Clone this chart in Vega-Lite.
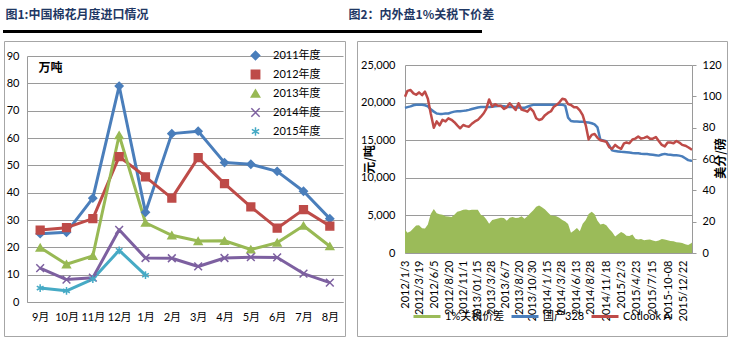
{
  "$schema": "https://vega.github.io/schema/vega-lite/v6.json",
  "padding": {"left": 0, "top": 7, "right": 0, "bottom": 0},
  "spacing": 4,
  "config": {
    "font": "Lato, Noto Sans CJK SC",
    "axis": {"labelFont": "Lato, Noto Sans CJK SC", "labelFontSize": 11, "labelColor": "#000000", "domainColor": "#9A9A9A", "gridColor": "#9A9A9A", "tickColor": "#9A9A9A", "titleColor": "#000000"},
    "legend": {"labelFont": "Lato, Noto Sans CJK SC", "labelFontSize": 11, "labelColor": "#000000"},
    "view": {"stroke": null}
  },
  "vconcat": [
    {
      "width": 477,
      "height": 1,
      "view": {"stroke": "#000000", "strokeWidth": 2},
      "data": {"values": [{"p": 0}]},
      "mark": {"type": "point", "opacity": 0},
      "encoding": {
        "x": {"field": "p", "type": "quantitative", "scale": {"domain": [0, 1]},
          "axis": {"orient": "top", "title": "图2：内外盘1%关税下价差", "titleX": 344, "titleY": -17, "titleAlign": "left", "titleBaseline": "middle", "titleAnchor": "start", "titleFont": "Noto Sans CJK SC", "titleFontWeight": "bold", "titleFontSize": 12, "titleColor": "#1F3864", "domain": false, "ticks": false, "labels": false, "grid": false}},
        "y": {"field": "p", "type": "quantitative", "scale": {"domain": [0, 1]},
          "axis": {"title": "图1:中国棉花月度进口情况", "titleAngle": 0, "titleX": 1, "titleY": -17, "titleAlign": "left", "titleBaseline": "middle", "titleFont": "Noto Sans CJK SC", "titleFontWeight": "bold", "titleFontSize": 12, "titleColor": "#1F3864", "domain": false, "ticks": false, "labels": false, "grid": false}}
      }
    },
    {
      "spacing": 10,
      "resolve": {"scale": {"color": "independent", "shape": "independent", "stroke": "independent", "fill": "independent"}, "legend": {"color": "independent"}},
      "hconcat": [
        {
          "width": 341,
          "height": 295,
          "view": {"stroke": "#A6A6A6", "strokeWidth": 1},
          "data": {"values": [
            {"m": "9月", "s": "2011年度", "v": 25}, {"m": "10月", "s": "2011年度", "v": 25.5}, {"m": "11月", "s": "2011年度", "v": 38}, {"m": "12月", "s": "2011年度", "v": 79}, {"m": "1月", "s": "2011年度", "v": 32.8}, {"m": "2月", "s": "2011年度", "v": 61.6}, {"m": "3月", "s": "2011年度", "v": 62.5}, {"m": "4月", "s": "2011年度", "v": 51}, {"m": "5月", "s": "2011年度", "v": 50.4}, {"m": "6月", "s": "2011年度", "v": 47.8}, {"m": "7月", "s": "2011年度", "v": 40.5}, {"m": "8月", "s": "2011年度", "v": 30.5},
            {"m": "9月", "s": "2012年度", "v": 26.3}, {"m": "10月", "s": "2012年度", "v": 27.2}, {"m": "11月", "s": "2012年度", "v": 30.5}, {"m": "12月", "s": "2012年度", "v": 53.2}, {"m": "1月", "s": "2012年度", "v": 45.8}, {"m": "2月", "s": "2012年度", "v": 38}, {"m": "3月", "s": "2012年度", "v": 52.8}, {"m": "4月", "s": "2012年度", "v": 43.3}, {"m": "5月", "s": "2012年度", "v": 34.8}, {"m": "6月", "s": "2012年度", "v": 27}, {"m": "7月", "s": "2012年度", "v": 33.8}, {"m": "8月", "s": "2012年度", "v": 27.8},
            {"m": "9月", "s": "2013年度", "v": 19.9}, {"m": "10月", "s": "2013年度", "v": 13.8}, {"m": "11月", "s": "2013年度", "v": 16.9}, {"m": "12月", "s": "2013年度", "v": 61}, {"m": "1月", "s": "2013年度", "v": 29}, {"m": "2月", "s": "2013年度", "v": 24.4}, {"m": "3月", "s": "2013年度", "v": 22.3}, {"m": "4月", "s": "2013年度", "v": 22.4}, {"m": "5月", "s": "2013年度", "v": 19.2}, {"m": "6月", "s": "2013年度", "v": 21.7}, {"m": "7月", "s": "2013年度", "v": 27.9}, {"m": "8月", "s": "2013年度", "v": 20.4},
            {"m": "9月", "s": "2014年度", "v": 12.4}, {"m": "10月", "s": "2014年度", "v": 8.2}, {"m": "11月", "s": "2014年度", "v": 8.9}, {"m": "12月", "s": "2014年度", "v": 26.4}, {"m": "1月", "s": "2014年度", "v": 16.1}, {"m": "2月", "s": "2014年度", "v": 16}, {"m": "3月", "s": "2014年度", "v": 13}, {"m": "4月", "s": "2014年度", "v": 16.1}, {"m": "5月", "s": "2014年度", "v": 16.4}, {"m": "6月", "s": "2014年度", "v": 16.3}, {"m": "7月", "s": "2014年度", "v": 10.4}, {"m": "8月", "s": "2014年度", "v": 7.1},
            {"m": "9月", "s": "2015年度", "v": 5.1}, {"m": "10月", "s": "2015年度", "v": 4.1}, {"m": "11月", "s": "2015年度", "v": 8.4}, {"m": "12月", "s": "2015年度", "v": 18.9}, {"m": "1月", "s": "2015年度", "v": 9.8}
          ]},
          "encoding": {
            "x": {"field": "m", "type": "ordinal", "sort": ["9月", "10月", "11月", "12月", "1月", "2月", "3月", "4月", "5月", "6月", "7月", "8月"],
              "scale": {"type": "point", "padding": 0.5, "range": [23, 339]},
              "axis": {"title": null, "offset": -34, "labelAngle": 0, "ticks": false, "grid": false, "labelPadding": 9, "labelFontSize": 11}},
            "y": {"field": "v", "type": "quantitative",
              "scale": {"domain": [0, 90], "range": [261, 15], "nice": false},
              "axis": {"offset": -23, "values": [0, 10, 20, 30, 40, 50, 60, 70, 80, 90], "ticks": false, "grid": true, "labelPadding": 8, "title": "万吨", "titleAngle": 0, "titleX": 11, "titleY": 26, "titleAlign": "left", "titleBaseline": "middle", "titleFont": "Noto Sans CJK SC", "titleFontWeight": "bold", "titleFontSize": 12}}
          },
          "layer": [
            {"mark": {"type": "line", "strokeWidth": 3, "strokeJoin": "round"},
              "encoding": {
                "color": {"field": "s", "type": "nominal",
                  "scale": {"domain": ["2011年度", "2012年度", "2013年度", "2014年度", "2015年度"], "range": ["#4A7EBB", "#BE4B48", "#98B954", "#7D60A0", "#46AAC5"]},
                  "legend": {"orient": "none", "legendX": 246, "legendY": 8, "direction": "vertical", "title": null, "symbolSize": 70, "symbolStrokeWidth": 1.5, "clipHeight": 13, "rowPadding": 6, "labelOffset": 12, "labelFontSize": 11}}
              }},
            {"mark": {"type": "point", "opacity": 1, "size": 60, "strokeWidth": 1.5},
              "encoding": {
                "shape": {"field": "s", "type": "nominal", "legend": null,
                  "scale": {"domain": ["2011年度", "2012年度", "2013年度", "2014年度", "2015年度"], "range": ["diamond", "square", "triangle-up", "M-1,-1L1,1M1,-1L-1,1", "M0,-1L0,1M-0.87,-0.5L0.87,0.5M-0.87,0.5L0.87,-0.5"]}},
                "fill": {"field": "s", "type": "nominal", "legend": null,
                  "scale": {"domain": ["2011年度", "2012年度", "2013年度", "2014年度", "2015年度"], "range": ["#4A7EBB", "#BE4B48", "#98B954", "#7D60A0", "#46AAC5"]}},
                "stroke": {"field": "s", "type": "nominal", "legend": null,
                  "scale": {"domain": ["2011年度", "2012年度", "2013年度", "2014年度", "2015年度"], "range": ["#4A7EBB", "#BE4B48", "#98B954", "#7D60A0", "#46AAC5"]}}
              }}
          ]
        },
        {
          "width": 370,
          "height": 295,
          "view": {"stroke": "#A6A6A6", "strokeWidth": 1},
          "data": {"values": [
            {"date": "2012/01/03", "spread": 3090, "cn328": 19300, "cotlook": 99.8},
            {"date": "2012/01/16", "spread": 2700, "cn328": 19400, "cotlook": 103.5},
            {"date": "2012/02/01", "spread": 2900, "cn328": 19500, "cotlook": 104},
            {"date": "2012/02/16", "spread": 3300, "cn328": 19650, "cotlook": 101.9},
            {"date": "2012/03/01", "spread": 3650, "cn328": 19700, "cotlook": 101},
            {"date": "2012/03/16", "spread": 3700, "cn328": 19700, "cotlook": 102.5},
            {"date": "2012/04/01", "spread": 3300, "cn328": 19700, "cotlook": 100.8},
            {"date": "2012/04/16", "spread": 3250, "cn328": 19650, "cotlook": 103},
            {"date": "2012/05/01", "spread": 3800, "cn328": 19500, "cotlook": 98.5},
            {"date": "2012/05/16", "spread": 5200, "cn328": 19100, "cotlook": 89},
            {"date": "2012/06/01", "spread": 5850, "cn328": 18800, "cotlook": 80},
            {"date": "2012/06/16", "spread": 5300, "cn328": 18550, "cotlook": 84},
            {"date": "2012/07/01", "spread": 5150, "cn328": 18500, "cotlook": 81.5},
            {"date": "2012/07/16", "spread": 5090, "cn328": 18500, "cotlook": 85},
            {"date": "2012/08/01", "spread": 4900, "cn328": 18550, "cotlook": 84},
            {"date": "2012/08/16", "spread": 4850, "cn328": 18550, "cotlook": 86},
            {"date": "2012/09/01", "spread": 4800, "cn328": 18700, "cotlook": 85},
            {"date": "2012/09/16", "spread": 5100, "cn328": 18800, "cotlook": 83.5},
            {"date": "2012/10/01", "spread": 5500, "cn328": 18850, "cotlook": 81.5},
            {"date": "2012/10/16", "spread": 5600, "cn328": 18850, "cotlook": 79.6},
            {"date": "2012/11/01", "spread": 5750, "cn328": 18900, "cotlook": 81.7},
            {"date": "2012/11/16", "spread": 5800, "cn328": 18950, "cotlook": 81},
            {"date": "2012/12/01", "spread": 5700, "cn328": 19030, "cotlook": 80.6},
            {"date": "2012/12/16", "spread": 5750, "cn328": 19150, "cotlook": 82.5},
            {"date": "2013/01/01", "spread": 5750, "cn328": 19250, "cotlook": 84},
            {"date": "2013/01/16", "spread": 5750, "cn328": 19350, "cotlook": 84.9},
            {"date": "2013/02/01", "spread": 5100, "cn328": 19400, "cotlook": 87},
            {"date": "2013/02/16", "spread": 4900, "cn328": 19400, "cotlook": 89.2},
            {"date": "2013/03/01", "spread": 4500, "cn328": 19400, "cotlook": 92},
            {"date": "2013/03/16", "spread": 3900, "cn328": 19420, "cotlook": 98},
            {"date": "2013/04/01", "spread": 4400, "cn328": 19450, "cotlook": 93.4},
            {"date": "2013/04/16", "spread": 4500, "cn328": 19500, "cotlook": 95},
            {"date": "2013/05/01", "spread": 4600, "cn328": 19550, "cotlook": 94},
            {"date": "2013/05/16", "spread": 4700, "cn328": 19550, "cotlook": 94},
            {"date": "2013/06/01", "spread": 4650, "cn328": 19500, "cotlook": 92},
            {"date": "2013/06/16", "spread": 4300, "cn328": 19450, "cotlook": 93},
            {"date": "2013/07/01", "spread": 4700, "cn328": 19400, "cotlook": 95.6},
            {"date": "2013/07/16", "spread": 4800, "cn328": 19400, "cotlook": 93.5},
            {"date": "2013/08/01", "spread": 4650, "cn328": 19400, "cotlook": 91.3},
            {"date": "2013/08/16", "spread": 4700, "cn328": 19350, "cotlook": 95.6},
            {"date": "2013/09/01", "spread": 4900, "cn328": 19300, "cotlook": 91.5},
            {"date": "2013/09/16", "spread": 4550, "cn328": 19300, "cotlook": 91},
            {"date": "2013/10/01", "spread": 4900, "cn328": 19450, "cotlook": 90.2},
            {"date": "2013/10/16", "spread": 5300, "cn328": 19600, "cotlook": 92.4},
            {"date": "2013/11/01", "spread": 5700, "cn328": 19700, "cotlook": 90.4},
            {"date": "2013/11/16", "spread": 6150, "cn328": 19700, "cotlook": 86},
            {"date": "2013/12/01", "spread": 6300, "cn328": 19700, "cotlook": 84.9},
            {"date": "2013/12/16", "spread": 6100, "cn328": 19700, "cotlook": 85.5},
            {"date": "2014/01/01", "spread": 5800, "cn328": 19700, "cotlook": 88},
            {"date": "2014/01/16", "spread": 5400, "cn328": 19700, "cotlook": 89.4},
            {"date": "2014/02/01", "spread": 4990, "cn328": 19700, "cotlook": 90.5},
            {"date": "2014/02/16", "spread": 4950, "cn328": 19700, "cotlook": 93.4},
            {"date": "2014/03/01", "spread": 4900, "cn328": 19700, "cotlook": 94.5},
            {"date": "2014/03/16", "spread": 4700, "cn328": 19700, "cotlook": 96},
            {"date": "2014/04/01", "spread": 4400, "cn328": 19700, "cotlook": 98.5},
            {"date": "2014/04/16", "spread": 4200, "cn328": 19600, "cotlook": 98},
            {"date": "2014/05/01", "spread": 3850, "cn328": 18000, "cotlook": 95},
            {"date": "2014/05/16", "spread": 2700, "cn328": 17550, "cotlook": 94.5},
            {"date": "2014/06/01", "spread": 3000, "cn328": 17500, "cotlook": 93},
            {"date": "2014/06/16", "spread": 3320, "cn328": 17500, "cotlook": 93},
            {"date": "2014/07/01", "spread": 2900, "cn328": 17450, "cotlook": 91},
            {"date": "2014/07/16", "spread": 3900, "cn328": 17450, "cotlook": 88},
            {"date": "2014/08/01", "spread": 4400, "cn328": 17400, "cotlook": 81.5},
            {"date": "2014/08/16", "spread": 5200, "cn328": 17350, "cotlook": 72.5},
            {"date": "2014/09/01", "spread": 5500, "cn328": 17250, "cotlook": 75.4},
            {"date": "2014/09/16", "spread": 5150, "cn328": 17100, "cotlook": 76},
            {"date": "2014/10/01", "spread": 4300, "cn328": 16700, "cotlook": 73.5},
            {"date": "2014/10/16", "spread": 3800, "cn328": 15050, "cotlook": 72},
            {"date": "2014/11/01", "spread": 3900, "cn328": 14950, "cotlook": 71.5},
            {"date": "2014/11/16", "spread": 3700, "cn328": 14850, "cotlook": 71},
            {"date": "2014/12/01", "spread": 3200, "cn328": 14300, "cotlook": 67.5},
            {"date": "2014/12/16", "spread": 2800, "cn328": 13650, "cotlook": 66.5},
            {"date": "2015/01/01", "spread": 2200, "cn328": 13550, "cotlook": 69},
            {"date": "2015/01/16", "spread": 2500, "cn328": 13500, "cotlook": 67.5},
            {"date": "2015/02/01", "spread": 2800, "cn328": 13450, "cotlook": 66.5},
            {"date": "2015/02/16", "spread": 2600, "cn328": 13420, "cotlook": 70},
            {"date": "2015/03/01", "spread": 2300, "cn328": 13400, "cotlook": 70.5},
            {"date": "2015/03/16", "spread": 2250, "cn328": 13350, "cotlook": 70},
            {"date": "2015/04/01", "spread": 2450, "cn328": 13300, "cotlook": 72.5},
            {"date": "2015/04/16", "spread": 1900, "cn328": 13280, "cotlook": 73},
            {"date": "2015/05/01", "spread": 1800, "cn328": 13250, "cotlook": 74.3},
            {"date": "2015/05/16", "spread": 1850, "cn328": 13200, "cotlook": 73},
            {"date": "2015/06/01", "spread": 1700, "cn328": 13180, "cotlook": 73.5},
            {"date": "2015/06/16", "spread": 1750, "cn328": 13150, "cotlook": 74.3},
            {"date": "2015/07/01", "spread": 1800, "cn328": 13100, "cotlook": 73},
            {"date": "2015/07/16", "spread": 1650, "cn328": 13050, "cotlook": 73},
            {"date": "2015/08/01", "spread": 1550, "cn328": 13000, "cotlook": 74},
            {"date": "2015/08/16", "spread": 1650, "cn328": 12950, "cotlook": 71.5},
            {"date": "2015/09/01", "spread": 1850, "cn328": 13100, "cotlook": 69},
            {"date": "2015/09/16", "spread": 1800, "cn328": 13180, "cotlook": 68},
            {"date": "2015/10/01", "spread": 1700, "cn328": 13100, "cotlook": 70.5},
            {"date": "2015/10/16", "spread": 1600, "cn328": 13050, "cotlook": 70.5},
            {"date": "2015/11/01", "spread": 1550, "cn328": 13000, "cotlook": 70},
            {"date": "2015/11/16", "spread": 1420, "cn328": 13000, "cotlook": 71.5},
            {"date": "2015/12/01", "spread": 1380, "cn328": 12950, "cotlook": 70.5},
            {"date": "2015/12/16", "spread": 1330, "cn328": 12850, "cotlook": 69},
            {"date": "2016/01/01", "spread": 1150, "cn328": 12600, "cotlook": 68.5},
            {"date": "2016/01/16", "spread": 1050, "cn328": 12350, "cotlook": 67.5},
            {"date": "2016/02/01", "spread": 1300, "cn328": 12260, "cotlook": 66.2},
            {"date": "2016/02/05", "spread": 1400, "cn328": 12250, "cotlook": 66}
          ]},
          "encoding": {
            "x": {"field": "date", "type": "temporal",
              "scale": {"domain": [{"year": 2012, "month": 1, "date": 3}, {"year": 2016, "month": 2, "date": 5}], "range": [48, 335], "nice": false},
              "axis": {"title": null, "offset": -83, "labelAngle": 270, "ticks": false, "grid": false, "labelPadding": 7, "labelFlush": false, "labelOverlap": false, "labelBound": false, "format": "%Y/%-m/%-d",
                "labelExpr": "datum.label === '2013/1/15' ? '2013/01/15' : datum.label === '2015/10/8' ? '2015-10-08' : datum.label",
                "values": [{"year": 2012, "month": 1, "date": 3}, {"year": 2012, "month": 3, "date": 19}, {"year": 2012, "month": 6, "date": 5}, {"year": 2012, "month": 8, "date": 20}, {"year": 2012, "month": 11, "date": 1}, {"year": 2013, "month": 1, "date": 15}, {"year": 2013, "month": 3, "date": 28}, {"year": 2013, "month": 6, "date": 7}, {"year": 2013, "month": 8, "date": 20}, {"year": 2013, "month": 10, "date": 30}, {"year": 2014, "month": 1, "date": 15}, {"year": 2014, "month": 3, "date": 28}, {"year": 2014, "month": 6, "date": 13}, {"year": 2014, "month": 8, "date": 28}, {"year": 2014, "month": 11, "date": 18}, {"year": 2015, "month": 2, "date": 3}, {"year": 2015, "month": 4, "date": 23}, {"year": 2015, "month": 7, "date": 15}, {"year": 2015, "month": 10, "date": 8}, {"year": 2015, "month": 12, "date": 22}]}}
          },
          "layer": [
            {
              "layer": [
                {"mark": {"type": "area", "opacity": 1},
                  "encoding": {
                    "y": {"field": "spread", "type": "quantitative",
                      "scale": {"domain": [0, 25000], "range": [212, 24], "nice": false},
                      "axis": {"offset": -48, "values": [0, 5000, 10000, 15000, 20000, 25000], "grid": true, "ticks": false, "labelPadding": 10, "title": "元/吨", "titleAngle": 270, "titleX": -36, "titleY": 118, "titleAlign": "center", "titleBaseline": "middle", "titleFont": "Noto Sans CJK SC", "titleFontWeight": "bold", "titleFontSize": 12}},
                    "color": {"datum": "1%关税价差", "type": "nominal",
                      "scale": {"domain": ["1%关税价差", "国产328", "Cotlook A"], "range": ["#9BBB59", "#4A7EBB", "#BE4B48"]},
                      "legend": {"orient": "none", "legendX": 55, "legendY": 269, "direction": "horizontal", "title": null, "symbolType": "stroke", "symbolSize": 729, "symbolStrokeWidth": 3, "clipHeight": 13, "columnPadding": 5, "labelOffset": 3, "labelFontSize": 11,
                        "encode": {"symbols": {"update": {
                          "strokeWidth": {"signal": "datum.label === '1%关税价差' ? 8 : 3"},
                          "strokeCap": {"value": "butt"}
                        }}}}}
                  }},
                {"mark": {"type": "line", "strokeWidth": 2.5, "strokeJoin": "round"},
                  "encoding": {
                    "y": {"field": "cn328", "type": "quantitative", "scale": {"domain": [0, 25000], "range": [212, 24], "nice": false}},
                    "color": {"datum": "国产328", "type": "nominal"}
                  }}
              ]
            },
            {"mark": {"type": "line", "strokeWidth": 2.5, "strokeJoin": "round"},
              "encoding": {
                "y": {"field": "cotlook", "type": "quantitative",
                  "scale": {"domain": [0, 120], "range": [212, 24], "nice": false},
                  "axis": {"orient": "right", "offset": -35, "values": [0, 20, 40, 60, 80, 100, 120], "grid": false, "ticks": true, "tickSize": 4, "labelPadding": 6, "title": "美分/磅", "titleAngle": 270, "titleX": 28, "titleY": 117, "titleAlign": "center", "titleBaseline": "middle", "titleFont": "Noto Sans CJK SC", "titleFontWeight": "bold", "titleFontSize": 12}},
                "color": {"datum": "Cotlook A", "type": "nominal"}
              }}
          ],
          "resolve": {"scale": {"y": "independent"}}
        }
      ]
    }
  ]
}
